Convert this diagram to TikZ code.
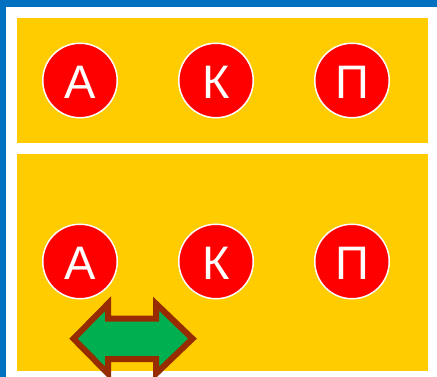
\documentclass[tikz,border=0pt]{standalone}
\usepackage{fontspec}
\setmainfont{Liberation Sans}
\definecolor{frameblue}{HTML}{0070C0}
\definecolor{panelyellow}{HTML}{FFCC00}
\definecolor{discred}{HTML}{FF0000}
\definecolor{arrowgreen}{HTML}{00B050}
\definecolor{arrowbrown}{HTML}{962C00}
\tikzset{
  panel/.style={fill=panelyellow, draw=none},
  disc/.style={circle, fill=discred, draw=white, line width=1.5pt, minimum size=74.5pt, inner sep=0pt,
    text=white, font=\fontsize{47}{47}\selectfont, text height=36.7pt, text depth=0pt},
  dblarrow/.style={fill=arrowgreen, draw=arrowbrown, line width=6pt, line join=miter}
}
\begin{document}
\begin{tikzpicture}[x=1pt,y=-1pt]
\useasboundingbox (0,0) rectangle (437,377);
\fill[white] (0,0) rectangle (437,377);
\fill[frameblue] (0,0) rectangle (437,6.7);
\fill[frameblue] (0,0) rectangle (6,377);
\fill[panel] (17.3,18.3) rectangle (428,143.5);
\fill[panel] (17.3,154.3) rectangle (428,371.3);
\node[disc] (a1) at (80,80.5) {А};
\node[disc] (k1) at (216,80.5) {К};
\node[disc] (p1) at (352,80.5) {П};
\node[disc] (a2) at (80,261.5) {А};
\node[disc] (k2) at (216,261.5) {К};
\node[disc] (p2) at (352,261.5) {П};
\draw[dblarrow] (73.5,338.7) -- (108,303.7) -- (108,318.5) -- (156,318.5) -- (156,303.7)
  -- (192.5,338.7) -- (156,373.7) -- (156,359) -- (108,359) -- (108,373.7) -- cycle;
\end{tikzpicture}
\end{document}
